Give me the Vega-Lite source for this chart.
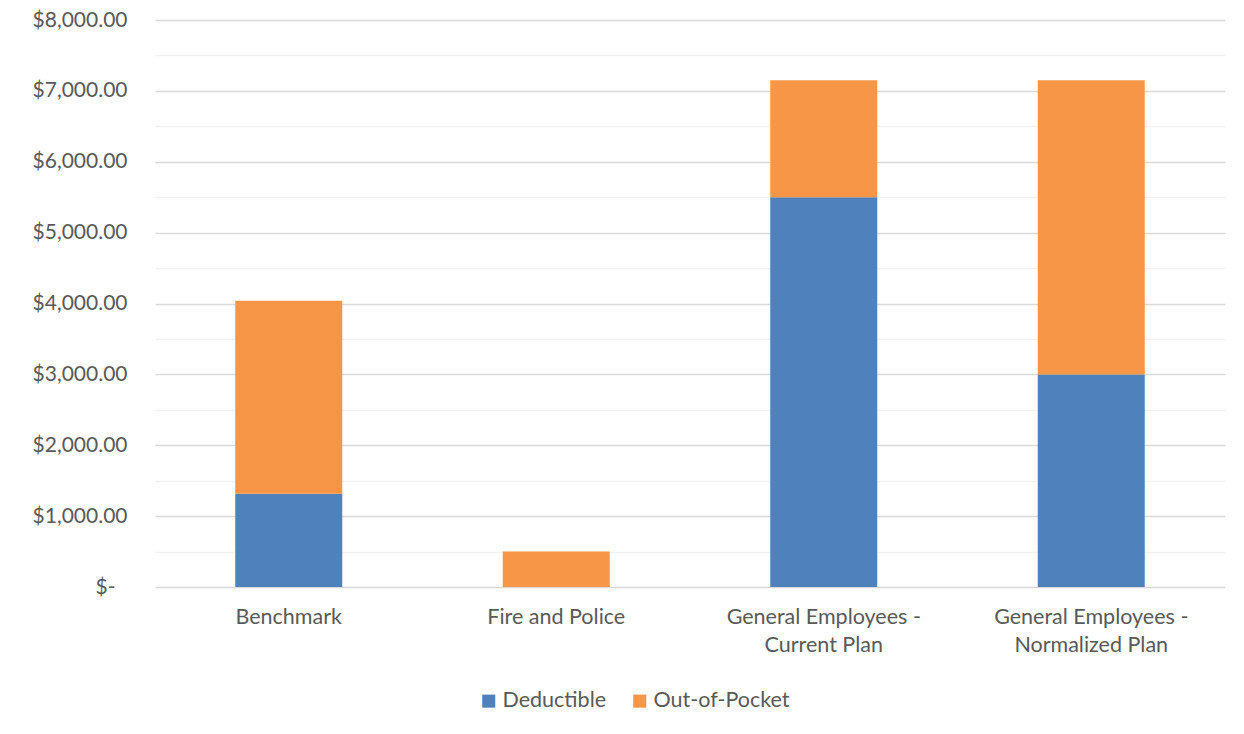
{
  "$schema": "https://vega.github.io/schema/vega-lite/v6.json",
  "autosize": "none",
  "width": 1070,
  "height": 567,
  "padding": {"left": 155, "top": 20, "right": 19, "bottom": 147},
  "background": "white",
  "config": {"view": {"stroke": null}, "font": "Lato"},
  "data": {
    "values": [
      {"plan": "Benchmark", "type": "Deductible", "amount": 1315},
      {"plan": "Benchmark", "type": "Out-of-Pocket", "amount": 2725},
      {"plan": "Fire and Police", "type": "Deductible", "amount": 0},
      {"plan": "Fire and Police", "type": "Out-of-Pocket", "amount": 500},
      {"plan": "General Employees - Current Plan", "type": "Deductible", "amount": 5500},
      {"plan": "General Employees - Current Plan", "type": "Out-of-Pocket", "amount": 1650},
      {"plan": "General Employees - Normalized Plan", "type": "Deductible", "amount": 3000},
      {"plan": "General Employees - Normalized Plan", "type": "Out-of-Pocket", "amount": 4150}
    ]
  },
  "mark": {"type": "bar"},
  "encoding": {
    "x": {
      "field": "plan",
      "type": "nominal",
      "sort": null,
      "scale": {"paddingInner": 0.6, "paddingOuter": 0.3},
      "axis": {
        "title": null,
        "labelAngle": 0,
        "domain": false,
        "ticks": false,
        "labelFont": "Lato",
        "labelFontSize": 21.5,
        "labelColor": "#595959",
        "labelPadding": 19,
        "labelLineHeight": 28,
        "labelLimit": 400,
        "labelExpr": "indexof(datum.label, ' - ') > 0 ? [slice(datum.label, 0, indexof(datum.label, ' - ') + 2), slice(datum.label, indexof(datum.label, ' - ') + 3)] : datum.label"
      }
    },
    "y": {
      "field": "amount",
      "type": "quantitative",
      "aggregate": "sum",
      "stack": "zero",
      "scale": {"domain": [0, 8000], "nice": false},
      "axis": {
        "title": null,
        "domain": false,
        "ticks": false,
        "values": [0, 500, 1000, 1500, 2000, 2500, 3000, 3500, 4000, 4500, 5000, 5500, 6000, 6500, 7000, 7500, 8000],
        "labelFont": "Lato",
        "labelFontSize": 21,
        "labelColor": "#595959",
        "labelPadding": {"condition": {"test": "datum.value === 0", "value": 40}, "value": 28},
        "labelLimit": 300,
        "labelExpr": "datum.value === 0 ? '$-' : (datum.value % 1000 === 0 ? '$' + format(datum.value, ',.2f') : '')",
        "gridColor": {"condition": {"test": "datum.value % 1000 === 0", "value": "#d9d9d9"}, "value": "#f2f2f2"},
        "gridWidth": 1.3
      }
    },
    "color": {
      "field": "type",
      "type": "nominal",
      "scale": {"domain": ["Deductible", "Out-of-Pocket"], "range": ["#4f81bd", "#f79646"]},
      "legend": {
        "title": null,
        "orient": "none",
        "direction": "horizontal",
        "legendX": 323,
        "legendY": 670,
        "symbolType": "square",
        "symbolSize": 170,
        "symbolStrokeWidth": 0,
        "labelFont": "Lato",
        "labelFontSize": 21.5,
        "labelColor": "#595959",
        "labelOffset": 3,
        "columnPadding": 22
      }
    },
    "order": {"field": "type", "sort": "ascending"}
  }
}
